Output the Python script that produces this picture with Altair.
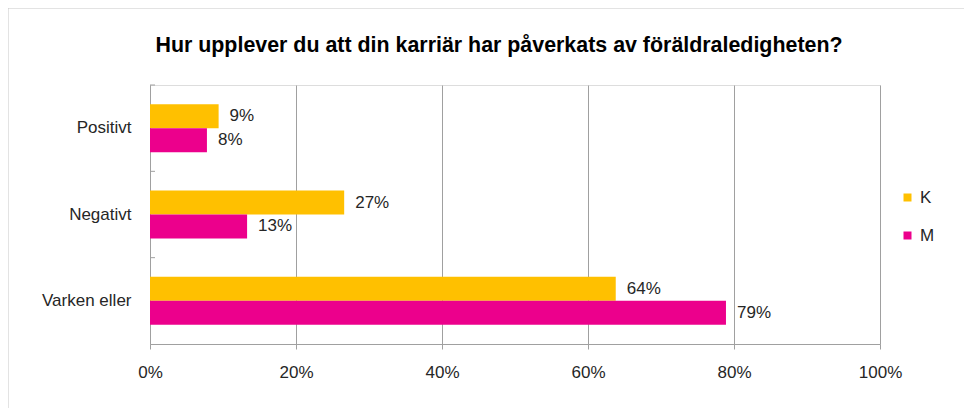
import altair as alt
import pandas as pd

categories = ["Positivt", "Negativt", "Varken eller"]
series = ["K", "M"]
k_values = [9.4, 26.6, 63.8]
m_values = [7.8, 13.3, 78.9]
k_labels = ["9%", "27%", "64%"]
m_labels = ["8%", "13%", "79%"]
x_ticks = [0, 20, 40, 60, 80, 100]
colors = ["#FFC000", "#EC008C"]
title_text = "Hur upplever du att din karriär har påverkats av föräldraledigheten?"

rows = []
for c, kv, kl in zip(categories, k_values, k_labels):
    rows.append({"cat": c, "serie": "K", "value": kv, "label": kl})
for c, mv, ml in zip(categories, m_values, m_labels):
    rows.append({"cat": c, "serie": "M", "value": mv, "label": ml})
df = pd.DataFrame(rows)

FONT = "Liberation Sans"
GRAY = "#A0A0A0"
TEXT = "#262626"

y_enc = alt.Y("cat:N", sort=categories, title=None,
              scale=alt.Scale(paddingInner=0, paddingOuter=0),
              axis=alt.Axis(domainColor=GRAY, ticks=False, labelPadding=19,
                            labelFontSize=17, labelColor=TEXT, labelFont=FONT))
yoff_enc = alt.YOffset("serie:N", sort=series,
                       scale=alt.Scale(paddingInner=0, paddingOuter=0.8))
x_enc = alt.X("value:Q", title=None,
              scale=alt.Scale(domain=[0, 100], nice=False),
              axis=alt.Axis(values=x_ticks, labelExpr="datum.value + '%'",
                            grid=True, gridColor=GRAY, domainColor=GRAY,
                            tickColor=GRAY, tickSize=5, labelPadding=15,
                            labelFlush=False,
                            labelFontSize=17, labelColor=TEXT, labelFont=FONT))

base = alt.Chart(df)

bars = base.mark_bar().encode(
    x=x_enc,
    y=y_enc,
    yOffset=yoff_enc,
    color=alt.Color("serie:N", sort=series,
                    scale=alt.Scale(domain=series, range=colors),
                    legend=alt.Legend(title=None, orient="none", legendX=749, legendY=104,
                                      symbolType="square", symbolSize=64,
                                      labelFontSize=17, labelColor=TEXT, labelFont=FONT,
                                      labelOffset=4, rowPadding=20)),
)

labels = base.mark_text(align="left", baseline="middle", dx=11, fontSize=17,
                        font=FONT, color=TEXT).encode(
    x=alt.X("value:Q"),
    y=alt.Y("cat:N", sort=categories),
    yOffset=alt.YOffset("serie:N", sort=series),
    text="label:N",
)

tick_df = pd.DataFrame({"cat": categories})
yticks = alt.Chart(tick_df).mark_rule(color=GRAY).encode(
    y=alt.Y("cat:N", sort=categories, bandPosition=0),
    x=alt.value(0),
    x2=alt.value(5),
)

frame_df = pd.DataFrame({"a": [0]})
frame_left = alt.Chart(frame_df).mark_rule(color="#C8C8C8").encode(
    x=alt.value(-142), y=alt.value(-77), y2=alt.value(340))
frame_top = alt.Chart(frame_df).mark_rule(color="#C8C8C8").encode(
    x=alt.value(-142), x2=alt.value(820), y=alt.value(-77))

chart = alt.layer(bars, labels, yticks, frame_left, frame_top).properties(
    width=730,
    height=259,
    autosize=alt.AutoSizeParams(type="none"),
    padding={"left": 142, "top": 77, "right": 84, "bottom": 64},
    title=alt.TitleParams(title_text, fontSize=21.4, fontWeight="bold", font=FONT,
                          color="#000000", anchor="middle", frame="group",
                          baseline="alphabetic", dx=-16, dy=66, offset=0),
).configure_view(stroke=None).configure(background="white")

chart.save("out.html", embed_options={"renderer": "svg", "actions": False})
